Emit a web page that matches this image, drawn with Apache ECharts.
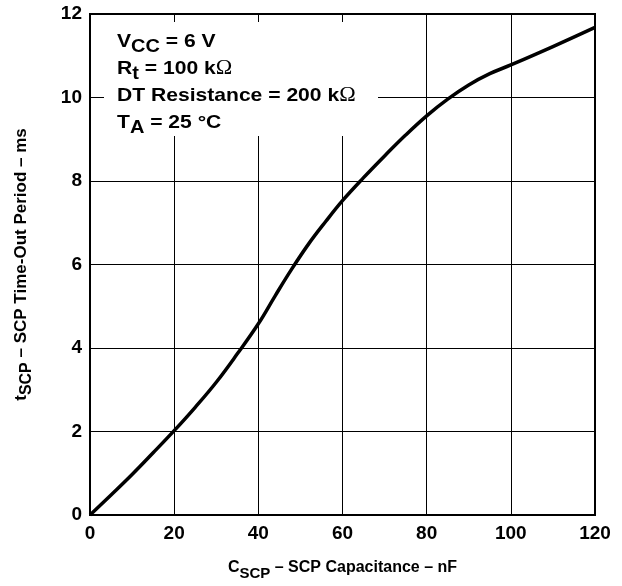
<!DOCTYPE html>
<html>
<head>
<meta charset="utf-8">
<script src="https://cdn.jsdelivr.net/npm/echarts@6/dist/echarts.min.js"></script>
<style>html,body{margin:0;padding:0;background:#fff}#c{width:622px;height:586px}</style>
</head>
<body>
<div id="c"></div>
<script>
const capacitance = [0, 5, 10, 15, 20, 25, 30, 35, 40, 44, 48, 52, 56, 60, 65, 70, 75, 80, 85, 90, 95, 100, 110, 120];
const period = [0, 0.48, 0.97, 1.49, 2.02, 2.58, 3.18, 3.86, 4.58, 5.25, 5.9, 6.5, 7.03, 7.53, 8.08, 8.6, 9.1, 9.56, 9.96, 10.3, 10.57, 10.78, 11.22, 11.68];
const xTicks = [0, 20, 40, 60, 80, 100, 120];
const yTicks = [0, 2, 4, 6, 8, 10, 12];

const font = 'Liberation Sans, Arial, sans-serif';
const chart = echarts.init(document.getElementById('c'), null, {renderer: 'canvas'});
chart.setOption({
  animation: false,
  backgroundColor: '#fff',
  grid: {left: 90, right: 27, top: 14, bottom: 71, outerBoundsMode: 'none', containLabel: false, show: true, borderColor: '#000', borderWidth: 2, backgroundColor: 'transparent'},
  xAxis: {
    type: 'value', min: xTicks[0], max: xTicks[xTicks.length - 1], interval: 20,
    axisLine: {show: true, lineStyle: {color: '#000', width: 2}},
    axisTick: {show: false},
    splitLine: {show: true, lineStyle: {color: '#000', width: 1}},
    axisLabel: {color: '#000', fontFamily: font, fontWeight: 'bold', fontSize: 19, margin: 9},
    name: '{m|C}{s|SCP}{m| – SCP Capacitance – nF}',
    nameLocation: 'middle', nameGap: 40,
    nameTextStyle: {
      rich: {
        m: {fontFamily: font, fontWeight: 'bold', fontSize: 16, color: '#000'},
        s: {fontFamily: font, fontWeight: 'bold', fontSize: 15, color: '#000', padding: [11, 0, 0, 0]}
      }
    }
  },
  yAxis: {
    type: 'value', min: yTicks[0], max: yTicks[yTicks.length - 1], interval: 2,
    axisLine: {show: true, lineStyle: {color: '#000', width: 2}},
    axisTick: {show: false},
    splitLine: {show: true, lineStyle: {color: '#000', width: 1}},
    axisLabel: {color: '#000', fontFamily: font, fontWeight: 'bold', fontSize: 19, margin: 8},
    name: '{m|t}{s|SCP}{m| – SCP Time-Out Period – ms}',
    nameLocation: 'middle', nameGap: 55,
    nameTextStyle: {
      rich: {
        m: {fontFamily: font, fontWeight: 'bold', fontSize: 17, color: '#000'},
        s: {fontFamily: font, fontWeight: 'bold', fontSize: 16, color: '#000', padding: [11, 0, 0, 0]}
      }
    }
  },
  graphic: [
    {type: 'rect', x: 104, y: 22, shape: {width: 274, height: 114}, style: {fill: '#fff'}, z: 10},
    {
      type: 'text', x: 117, y: 28, scaleX: 1.11, z: 11,
      style: {
        text: '{m|V}{s|CC}{m| = 6 V}\n{m|R}{s|t}{m| = 100 k}{o|Ω}\n{m|DT Resistance = 200 k}{o|Ω}\n{m|T}{s|A}{m| = 25 °C}',
        rich: {
          m: {fontFamily: font, fontWeight: 'bold', fontSize: 19, fill: '#000', lineHeight: 27},
          o: {fontFamily: 'Liberation Serif, serif', fontSize: 20, fill: '#000', lineHeight: 27},
          s: {fontFamily: font, fontWeight: 'bold', fontSize: 18, fill: '#000', lineHeight: 27, padding: [11, 0, 0, 0]}
        }
      }
    }
  ],
  series: [{
    type: 'line',
    data: capacitance.map((c, i) => [c, period[i]]),
    smooth: 0.4,
    showSymbol: false,
    lineStyle: {color: '#000', width: 3.5},
    z: 5
  }]
});
</script>
</body>
</html>
